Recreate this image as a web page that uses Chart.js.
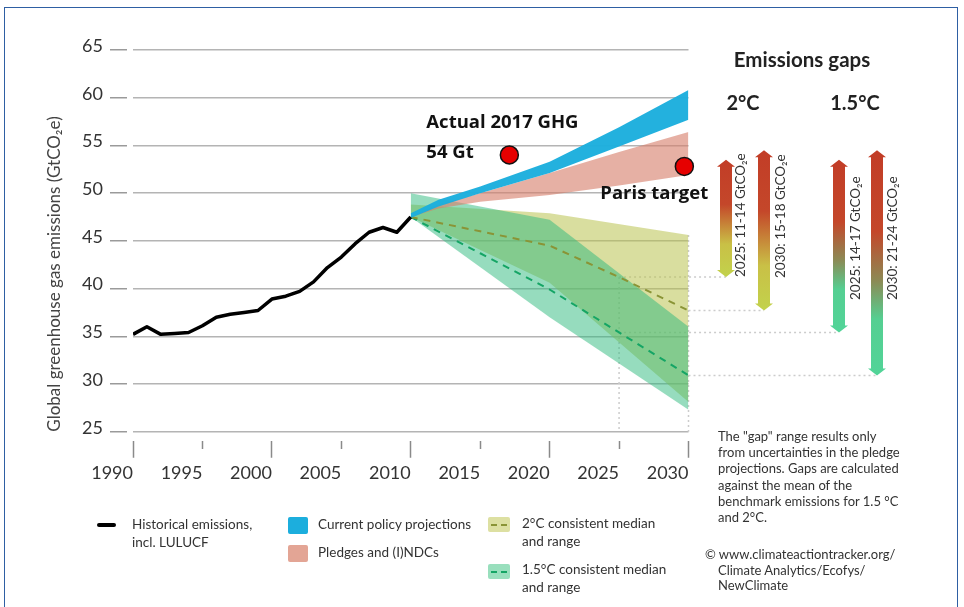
<!DOCTYPE html>
<html>
<head>
<meta charset="utf-8">
<script src="https://cdn.jsdelivr.net/npm/chart.js@4.4.1/dist/chart.umd.min.js"></script>
<style>
  html, body { margin: 0; padding: 0; background: #fff; overflow: hidden; }
  #wrap { position: relative; width: 964px; height: 607px; font-family: Lato, "Noto Sans", sans-serif; color: #333; }
  #chart { position: absolute; left: 0; top: 0; }
  #frame { position: absolute; left: 4px; top: 7px; width: 952px; height: 640px; border: 1.5px solid #2e5fa3; pointer-events: none; }
  .lg { position: absolute; font-size: 13.5px; line-height: 17.5px; }
  .sw { position: absolute; border-radius: 2px; }
  #note { position: absolute; left: 718px; top: 428px; font-size: 13px; line-height: 16.2px; }
  #credit { position: absolute; left: 705px; top: 547px; font-size: 13px; line-height: 15.5px; padding-left: 13px; text-indent: -13px; }
</style>
</head>
<body>
<div id="wrap">
  <canvas id="chart" width="964" height="607"></canvas>
  <div id="frame"></div>
  <div id="legend"></div>
  <div id="note">The "gap" range results only<br>from uncertainties in the pledge<br>projections. Gaps are calculated<br>against the mean of the<br>benchmark emissions for 1.5 °C<br>and 2°C.</div>
  <div id="credit">© www.climateactiontracker.org/<br>Climate Analytics/Ecofys/<br>NewClimate</div>
</div>
<script>
// historical emissions incl. LULUCF
var histYears = [1990, 1991, 1992, 1993, 1994, 1995, 1996, 1997, 1998, 1999, 2000,
                 2001, 2002, 2003, 2004, 2005, 2006, 2007, 2008, 2009, 2010];
var histValues = [35.2, 36.0, 35.2, 35.3, 35.4, 36.1, 37.0, 37.3, 37.5, 37.7, 38.9,
                  39.2, 39.7, 40.7, 42.2, 43.3, 44.7, 45.9, 46.4, 45.9, 47.5];

// current policy projections (range)
var currentYears = [2010, 2012, 2015, 2020, 2025, 2030];
var currentHigh = [47.9, 49.3, 50.7, 53.3, 56.9, 60.8];
var currentLow = [47.4, 48.6, 50.0, 52.1, 54.9, 57.7];

// pledges and (I)NDCs (range)
var pledgeYears = [2010, 2012, 2015, 2020, 2025, 2030];
var pledgeHigh = [47.5, 48.8, 50.0, 52.1, 54.3, 56.4];
var pledgeLow = [47.5, 48.4, 49.1, 49.8, 50.8, 51.9];

// 2°C and 1.5°C consistent ranges
var rangeYears = [2010, 2020, 2030];
var twoHigh = [48.8, 47.9, 45.6];
var twoLow = [47.5, 40.6, 28.1];
var onefiveHigh = [50.0, 47.2, 36.0];
var onefiveLow = [47.5, 37.0, 27.3];

// medians
var medianYears = [2010, 2015, 2020, 2025, 2030];
var twoMedian = [47.5, 46.0, 44.5, 41.2, 37.7];
var onefiveMedian = [47.5, 43.7, 39.9, 35.4, 30.9];

// red markers
var markerYears = [2017.1, 2029.7];
var markerValues = [54.0, 52.8];

// emissions gaps
var gapLabels = ['2025: 11-14 GtCO₂e', '2030: 15-18 GtCO₂e', '2025: 14-17 GtCO₂e', '2030: 21-24 GtCO₂e'];
var gapYears = [2025, 2030, 2025, 2030];
var gapTop = [53.5, 54.5, 53.5, 54.5];
var gapBottom = [41.2, 37.7, 35.4, 30.9];

var yTicks = [25, 30, 35, 40, 45, 50, 55, 60, 65];

function pts(xs, ys) {
  return xs.map(function(x, i) { return {x: x, y: ys[i]}; });
}

// layout of the annotation column on the right
var arrowX = [726, 764, 839, 877];
var labelX = [741, 781, 856, 893];
var labelBase = [277, 278, 300, 300];
var warm = [[0, '#c23d27'], [0.38, '#c4472a'], [0.72, '#c9c046'], [1, '#c2d24c']];
var cool = [[0, '#c23d27'], [0.36, '#c4472a'], [0.58, '#8c8a55'], [0.75, '#55cf92'], [1, '#52d498']];

function drawArrow(ctx, cx, top, bottom, stops) {
  var g = ctx.createLinearGradient(0, top, 0, bottom);
  stops.forEach(function(s) { g.addColorStop(s[0], s[1]); });
  var w = 6, hw = 9, hl = 7;
  ctx.beginPath();
  ctx.moveTo(cx, top);
  ctx.lineTo(cx + hw, top + hl);
  ctx.lineTo(cx + w, top + hl);
  ctx.lineTo(cx + w, bottom - hl);
  ctx.lineTo(cx + hw, bottom - hl);
  ctx.lineTo(cx, bottom);
  ctx.lineTo(cx - hw, bottom - hl);
  ctx.lineTo(cx - w, bottom - hl);
  ctx.lineTo(cx - w, top + hl);
  ctx.lineTo(cx - hw, top + hl);
  ctx.closePath();
  ctx.fillStyle = g;
  ctx.fill();
}

var gapPlugin = {
  id: 'gaps',
  beforeDatasetsDraw: function(chart) {
    var ctx = chart.ctx, x = chart.scales.x, y = chart.scales.y, area = chart.chartArea;
    ctx.save();
    ctx.strokeStyle = '#cccccc';
    ctx.lineWidth = 1.5;
    ctx.setLineDash([2, 3]);
    for (var i = 0; i < gapBottom.length; i++) {
      var py = y.getPixelForValue(gapBottom[i]);
      ctx.beginPath();
      ctx.moveTo(x.getPixelForValue(gapYears[i]), py);
      ctx.lineTo(arrowX[i], py);
      ctx.stroke();
    }
    var x25 = x.getPixelForValue(2025), x30 = x.getPixelForValue(2030);
    ctx.beginPath();
    ctx.moveTo(x25, y.getPixelForValue(twoMedian[3]));
    ctx.lineTo(x25, area.bottom);
    ctx.moveTo(x30, y.getPixelForValue(twoHigh[2]));
    ctx.lineTo(x30, area.bottom);
    ctx.stroke();
    ctx.restore();
  },
  afterDraw: function(chart) {
    var ctx = chart.ctx, x = chart.scales.x, y = chart.scales.y;
    ctx.save();
    for (var i = 0; i < gapLabels.length; i++) {
      drawArrow(ctx, arrowX[i], y.getPixelForValue(gapTop[i]), y.getPixelForValue(gapBottom[i]), i < 2 ? warm : cool);
      ctx.save();
      ctx.translate(labelX[i], labelBase[i]);
      ctx.rotate(-Math.PI / 2);
      ctx.font = '13.5px Lato, "Noto Sans", sans-serif';
      ctx.fillStyle = '#333';
      ctx.textAlign = 'left';
      ctx.textBaseline = 'middle';
      ctx.fillText(gapLabels[i], 0, 0);
      ctx.restore();
    }
    ctx.fillStyle = '#222';
    ctx.textAlign = 'center';
    ctx.textBaseline = 'middle';
    ctx.font = 'bold 20.5px Lato, "Noto Sans", sans-serif';
    ctx.fillText('Emissions gaps', 802, 60);
    ctx.font = 'bold 20px Lato, "Noto Sans", sans-serif';
    ctx.fillText('2°C', 743, 104);
    ctx.fillText('1.5°C', 855, 104);

    // marker annotations
    ctx.fillStyle = '#111';
    ctx.textAlign = 'left';
    ctx.font = 'bold 18.5px "Open Sans", "Noto Sans", sans-serif';
    var mx = x.getPixelForValue(markerYears[0]), my = y.getPixelForValue(markerValues[0]);
    ctx.fillText('Actual 2017 GHG', mx - 83, my - 32);
    ctx.fillText('54 Gt', mx - 83, my - 2);
    var px = x.getPixelForValue(markerYears[1]), pyy = y.getPixelForValue(markerValues[1]);
    ctx.fillText('Paris target', px - 84, pyy + 27);
    ctx.restore();
  }
};

var ctx = document.getElementById('chart').getContext('2d');
var emissionsChart = new Chart(ctx, {
  type: 'line',
  data: {
    datasets: [
      { label: 'Historical emissions, incl. LULUCF', data: pts(histYears, histValues),
        borderColor: '#000', borderWidth: 3.5, pointRadius: 0, borderJoinStyle: 'round', order: 0 },
      { label: 'markers', data: pts(markerYears, markerValues), showLine: false,
        pointRadius: 9, pointBackgroundColor: '#e60000', pointBorderColor: '#111', pointBorderWidth: 1.5,
        clip: false, order: 0 },
      { label: 'Current policy projections', data: pts(currentYears, currentHigh),
        borderWidth: 0, pointRadius: 0, fill: '+1', backgroundColor: 'rgba(28,174,221,0.97)', order: 1 },
      { label: 'current low', data: pts(currentYears, currentLow),
        borderWidth: 0, pointRadius: 0, fill: false, order: 1 },
      { label: 'Pledges and (I)NDCs', data: pts(pledgeYears, pledgeHigh),
        borderWidth: 0, pointRadius: 0, fill: '+1', backgroundColor: 'rgba(214,128,108,0.62)', order: 2 },
      { label: 'pledge low', data: pts(pledgeYears, pledgeLow),
        borderWidth: 0, pointRadius: 0, fill: false, order: 2 },
      { label: '2°C median', data: pts(medianYears, twoMedian),
        borderColor: '#8a9436', borderWidth: 2, borderDash: [7, 6], pointRadius: 0, order: 3 },
      { label: '1.5°C median', data: pts(medianYears, onefiveMedian),
        borderColor: '#15a565', borderWidth: 2, borderDash: [7, 6], pointRadius: 0, order: 3 },
      { label: '1.5°C consistent range', data: pts(rangeYears, onefiveHigh),
        borderWidth: 0, pointRadius: 0, fill: '+1', backgroundColor: 'rgba(45,185,125,0.5)', order: 4 },
      { label: '1.5 low', data: pts(rangeYears, onefiveLow),
        borderWidth: 0, pointRadius: 0, fill: false, order: 4 },
      { label: '2°C consistent range', data: pts(rangeYears, twoHigh),
        borderWidth: 0, pointRadius: 0, fill: '+1', backgroundColor: 'rgba(185,195,80,0.55)', order: 5 },
      { label: '2 low', data: pts(rangeYears, twoLow),
        borderWidth: 0, pointRadius: 0, fill: false, order: 5 }
    ]
  },
  options: {
    responsive: false,
    animation: false,
    layout: { padding: { left: 40, top: 50, right: 275.5, bottom: 115.3 } },
    plugins: {
      legend: { display: false },
      tooltip: { enabled: false }
    },
    scales: {
      x: {
        type: 'linear', min: 1990, max: 2030,
        afterFit: function(scale) { scale.height = 60; },
        border: { display: false },
        grid: {
          drawOnChartArea: false, drawTicks: true, tickLength: 26,
          tickColor: '#8a8a8a', tickWidth: 1.5,
          tickBorderDash: function(c) {
            return c.tick && c.tick.value % 10 === 0 ? [0, 9, 17, 100] : [0, 9, 8, 100];
          }
        },
        ticks: {
          stepSize: 5, align: 'end', padding: 5, color: '#333', maxRotation: 0,
          font: { family: 'Lato, "Noto Sans", sans-serif', size: 18 },
          callback: function(v) { return String(v); }
        }
      },
      y: {
        min: 25, max: 65,
        afterFit: function(scale) { scale.width = 93; },
        afterBuildTicks: function(scale) { scale.ticks = yTicks.map(function(v) { return {value: v}; }); },
        border: { display: false },
        grid: {
          color: '#b4b4b4', lineWidth: 1.5, tickLength: 23,
          tickColor: '#9a9a9a', tickWidth: 1.5, tickBorderDash: [17, 6]
        },
        ticks: {
          padding: 7, color: '#333', labelOffset: -4,
          font: { family: 'Lato, "Noto Sans", sans-serif', size: 18 },
          callback: function(v) { return String(v); }
        },
        title: {
          display: true, align: 'start', color: '#444',
          text: 'Global greenhouse gas emissions (GtCO₂e)',
          font: { family: 'Lato, "Noto Sans", sans-serif', size: 17 },
          padding: { top: 4, bottom: 4 }
        }
      }
    }
  },
  plugins: [gapPlugin]
});

// legend
var legendItems = [
  { label: 'Historical emissions,<br>incl. LULUCF', left: 132, top: 516, swatch: 'line', sx: 97, sy: 523, sw: 19, sh: 4, color: '#000' },
  { label: 'Current policy projections', left: 318, top: 516, swatch: 'box', sx: 288, sy: 517, sw: 20, sh: 17, color: '#1caedd' },
  { label: 'Pledges and (I)NDCs', left: 318, top: 544, swatch: 'box', sx: 288, sy: 545, sw: 20, sh: 17, color: '#e3a595' },
  { label: '2°C consistent median<br>and range', left: 522, top: 515, swatch: 'dash', sx: 488, sy: 517, sw: 22, sh: 15, color: '#dde0a2', dash: '#8a9436' },
  { label: '1.5°C consistent median<br>and range', left: 522, top: 561, swatch: 'dash', sx: 488, sy: 564, sw: 22, sh: 15, color: '#99dfbd', dash: '#15a565' }
];
var html = [];
legendItems.forEach(function(it) {
  var extra = it.swatch === 'line' ? 'border-radius:3px;' : '';
  html.push('<div class="sw" style="left:' + it.sx + 'px;top:' + it.sy + 'px;width:' + it.sw + 'px;height:' + it.sh + 'px;background:' + it.color + ';' + extra + '">');
  if (it.dash) {
    html.push('<div style="position:absolute;left:3px;right:3px;top:' + (it.sh / 2 - 1) + 'px;border-top:2px dashed ' + it.dash + '"></div>');
  }
  html.push('</div>');
  html.push('<div class="lg" style="left:' + it.left + 'px;top:' + it.top + 'px">' + it.label + '</div>');
});
document.getElementById('legend').innerHTML = html.join('');
</script>
</body>
</html>
